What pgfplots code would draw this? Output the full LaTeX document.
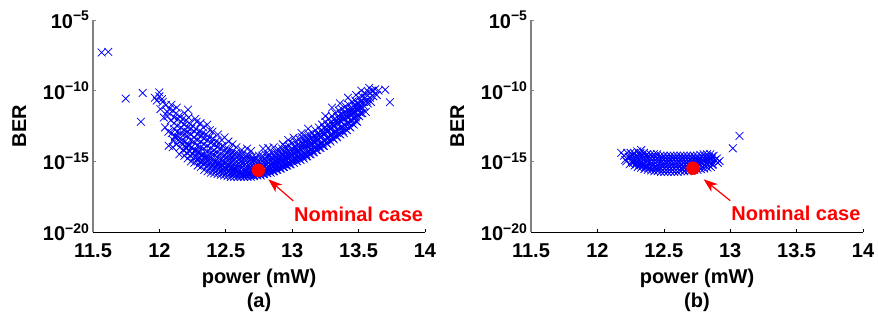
\documentclass[border=0pt]{standalone}
\usepackage{fontspec}
\setmainfont{Liberation Sans}
\usepackage{pgfplots}
\pgfplotsset{compat=1.18}
\usetikzlibrary{arrows.meta}
\newcommand\bigf{\fontsize{20}{25}\selectfont\bfseries}
\definecolor{mblue}{RGB}{0,0,255}
\definecolor{mred}{RGB}{255,0,0}
\pgfplotsset{
  berstyle/.style={
    scale only axis, width=332pt, height=212pt,
    xmin=11.5, xmax=14, ymin=-20, ymax=-5,
    axis x line*=bottom, axis y line*=left,
    x axis line style={black, line width=0.8pt},
    y axis line style={gray, line width=1.2pt},
    xtick={11.5,12,12.5,13,13.5,14},
    xticklabels={11.5,12,12.5,13,13.5,14},
    ytick={-20,-15,-10,-5},
    yticklabels={10\textsuperscript{−20},10\textsuperscript{−15},10\textsuperscript{−10},10\textsuperscript{−5}},
    tick align=inside, major tick length=3pt,
    xtick style={black, line width=0.6pt},
    ytick style={gray, line width=0.8pt},
    ticklabel style={font=\bigf},
    xticklabel style={yshift=-8pt},
    xlabel={power (mW)}, ylabel={BER},
    label style={font=\bigf},
    xlabel style={yshift=-4pt},
    ylabel style={yshift=10pt},
  },
  cloud/.style={only marks, mark=x, mark size=5.5pt, mblue, mark options={line width=0.75pt}},
  nominal/.style={only marks, mark=*, mark size=6.5pt, mred, mark options={draw=mred, fill=mred}},
}
\begin{document}
\begin{tikzpicture}
\path[use as bounding box] (-93pt,-93pt) rectangle (785pt,232pt);
% ---------------- (a) ----------------
\begin{axis}[berstyle, at={(0pt,0pt)}, anchor=south west]
\addplot[cloud] coordinates {
(11.565,-7.3)(11.615,-7.25)(11.746,-10.56)(11.874,-10.16)(11.86,-12.2)(11.999,-10.12)(11.966,-10.5)(11.98,-10.7)
(12.02,-10.6)(12.06,-11.5)(12.09,-11.0)(12.13,-11.2)(12.215,-11.34)(12.19,-11.6)(12.28,-12.2)(12.36,-12.4)
(12.33,-12.6)(12.40,-12.9)(12.49,-13.3)(12.55,-13.8)(12.69,-14.27)(12.82,-14.06)(12.62,-14.2)(13.01,-13.33)
(13.12,-12.7)(13.25,-11.8)(13.3,-11.2)(13.36,-10.9)(13.42,-10.5)(13.48,-10.3)(13.52,-10.0)(13.58,-9.8)
(13.61,-10.0)(13.70,-9.93)(13.736,-10.82)(13.55,-10.5)(13.50,-11.3)(13.46,-11.6)(12.10,-14.0)(12.15,-14.5)(12.07,-13.9)
(12.22,-11.9)(12.27,-12.0)(12.31,-12.3)(12.38,-12.8)(12.44,-13.1)(12.47,-13.5)(12.52,-13.6)(12.58,-14.0)
(12.66,-14.1)(12.78,-14.1)(12.86,-14.0)(12.93,-13.8)(12.97,-13.5)(13.07,-13.0)
(12.000,-10.4)(12.008,-11.3)
(12.025,-10.8)(12.033,-11.9)
(12.050,-11.0)(12.061,-11.8)(12.043,-12.6)
(12.075,-11.3)(12.086,-12.1)(12.068,-12.9)
(12.100,-11.4)(12.111,-12.3)(12.093,-13.0)(12.104,-13.5)
(12.125,-11.6)(12.136,-12.5)(12.118,-13.2)(12.129,-13.8)
(12.150,-11.8)(12.161,-12.6)(12.143,-13.3)(12.154,-14.0)
(12.175,-12.0)(12.186,-12.8)(12.168,-13.5)(12.179,-14.2)
(12.200,-12.1)(12.211,-12.9)(12.193,-13.6)(12.204,-14.1)(12.188,-14.6)
(12.225,-12.3)(12.236,-13.1)(12.218,-13.8)(12.229,-14.3)(12.213,-14.8)
(12.250,-12.5)(12.261,-13.3)(12.243,-14.0)(12.254,-14.5)(12.238,-15.0)
(12.275,-12.7)(12.286,-13.5)(12.268,-14.2)(12.279,-14.7)(12.263,-15.1)
(12.300,-12.9)(12.311,-13.6)(12.293,-14.3)(12.304,-14.8)(12.288,-15.3)
(12.325,-13.0)(12.336,-13.8)(12.318,-14.5)(12.329,-15.0)(12.313,-15.4)
(12.350,-13.1)(12.361,-13.9)(12.343,-14.6)(12.354,-15.1)(12.338,-15.6)
(12.375,-13.3)(12.386,-14.1)(12.368,-14.7)(12.379,-15.2)(12.363,-15.7)
(12.400,-13.4)(12.411,-14.2)(12.393,-14.8)(12.404,-15.3)(12.388,-15.8)
(12.425,-13.6)(12.436,-14.4)(12.418,-15.0)(12.429,-15.4)(12.413,-15.85)
(12.450,-13.7)(12.461,-14.5)(12.443,-15.1)(12.454,-15.5)(12.438,-15.9)
(12.475,-13.9)(12.486,-14.6)(12.468,-15.2)(12.479,-15.6)(12.463,-15.95)
(12.500,-14.1)(12.511,-14.7)(12.493,-15.2)(12.504,-15.6)(12.488,-16.0)
(12.525,-14.2)(12.536,-14.8)(12.518,-15.3)(12.529,-15.7)(12.513,-16.05)
(12.550,-14.3)(12.561,-14.9)(12.543,-15.4)(12.554,-15.8)(12.538,-16.1)
(12.575,-14.4)(12.586,-15.0)(12.568,-15.5)(12.579,-15.8)(12.563,-16.1)
(12.600,-14.5)(12.611,-15.0)(12.593,-15.5)(12.604,-15.85)(12.588,-16.1)
(12.625,-14.5)(12.636,-15.1)(12.618,-15.5)(12.629,-15.9)(12.613,-16.1)
(12.650,-14.6)(12.661,-15.1)(12.643,-15.6)(12.654,-15.9)(12.638,-16.1)
(12.675,-14.6)(12.686,-15.2)(12.668,-15.6)(12.679,-15.9)(12.663,-16.1)
(12.700,-14.7)(12.711,-15.2)(12.693,-15.6)(12.704,-15.9)(12.688,-16.1)
(12.725,-14.7)(12.736,-15.2)(12.718,-15.6)(12.729,-15.85)(12.713,-16.05)
(12.750,-14.6)(12.761,-15.1)(12.743,-15.5)(12.754,-15.8)(12.738,-16.0)
(12.775,-14.6)(12.786,-15.1)(12.768,-15.5)(12.779,-15.8)(12.763,-16.0)
(12.800,-14.5)(12.811,-15.0)(12.793,-15.4)(12.804,-15.7)(12.788,-15.9)
(12.825,-14.5)(12.836,-15.0)(12.818,-15.4)(12.829,-15.65)(12.813,-15.85)
(12.850,-14.4)(12.861,-14.9)(12.843,-15.3)(12.854,-15.6)(12.838,-15.8)
(12.875,-14.3)(12.886,-14.8)(12.868,-15.2)(12.879,-15.5)(12.863,-15.7)
(12.900,-14.2)(12.911,-14.7)(12.893,-15.1)(12.904,-15.4)(12.888,-15.6)
(12.925,-14.1)(12.936,-14.6)(12.918,-15.0)(12.929,-15.3)(12.913,-15.5)
(12.950,-14.0)(12.961,-14.5)(12.943,-14.9)(12.954,-15.2)(12.938,-15.4)
(12.975,-13.9)(12.986,-14.4)(12.968,-14.8)(12.979,-15.1)(12.963,-15.3)
(13.000,-13.7)(13.011,-14.2)(12.993,-14.6)(13.004,-14.9)(12.988,-15.2)
(13.025,-13.6)(13.036,-14.1)(13.018,-14.5)(13.029,-14.8)(13.013,-15.1)
(13.050,-13.4)(13.061,-13.9)(13.043,-14.3)(13.054,-14.7)(13.038,-15.0)
(13.075,-13.3)(13.086,-13.8)(13.068,-14.2)(13.079,-14.6)(13.063,-14.9)
(13.100,-13.2)(13.111,-13.7)(13.093,-14.1)(13.104,-14.5)(13.088,-14.8)
(13.125,-13.1)(13.136,-13.6)(13.118,-14.0)(13.129,-14.3)(13.113,-14.65)
(13.150,-13.0)(13.161,-13.4)(13.143,-13.8)(13.154,-14.2)(13.138,-14.5)
(13.175,-12.8)(13.186,-13.3)(13.168,-13.7)(13.179,-14.0)(13.163,-14.35)
(13.200,-12.6)(13.211,-13.1)(13.193,-13.5)(13.204,-13.9)(13.188,-14.2)
(13.225,-12.4)(13.236,-12.9)(13.218,-13.3)(13.229,-13.7)(13.213,-14.05)
(13.250,-12.2)(13.261,-12.7)(13.243,-13.1)(13.254,-13.5)(13.238,-13.9)
(13.275,-12.0)(13.286,-12.5)(13.268,-12.9)(13.279,-13.3)(13.263,-13.75)
(13.300,-11.8)(13.311,-12.3)(13.293,-12.7)(13.304,-13.1)(13.288,-13.6)
(13.325,-11.6)(13.336,-12.1)(13.318,-12.5)(13.329,-12.9)(13.313,-13.45)
(13.350,-11.4)(13.361,-11.9)(13.343,-12.3)(13.354,-12.8)(13.338,-13.3)
(13.375,-11.3)(13.386,-11.8)(13.368,-12.2)(13.379,-12.6)(13.363,-13.1)
(13.400,-11.1)(13.411,-11.6)(13.393,-12.0)(13.404,-12.5)(13.388,-13.0)
(13.425,-11.0)(13.436,-11.5)(13.418,-11.9)(13.429,-12.3)(13.413,-12.8)
(13.450,-10.8)(13.461,-11.3)(13.443,-11.7)(13.454,-12.1)(13.438,-12.6)
(13.475,-10.7)(13.486,-11.1)(13.468,-11.5)(13.479,-11.9)(13.463,-12.4)
(13.500,-10.5)(13.511,-11.0)(13.493,-11.4)(13.504,-11.8)(13.488,-12.2)
(13.525,-10.4)(13.536,-10.8)(13.518,-11.2)(13.529,-11.6)
(13.550,-10.2)(13.561,-10.7)(13.543,-11.1)(13.554,-11.5)
(13.575,-10.1)(13.586,-10.5)(13.568,-10.9)
(13.600,-10.0)(13.611,-10.4)(13.593,-10.8)
(13.625,-9.9)(13.636,-10.3)
(13.650,-10.0)
(12.114,-11.9)(12.109,-12.7)(12.117,-13.3)
(12.139,-12.0)(12.134,-12.9)(12.142,-13.5)
(12.164,-12.2)(12.159,-13.0)(12.167,-13.7)
(12.189,-12.4)(12.184,-13.1)(12.192,-13.9)
(12.214,-12.6)(12.209,-13.2)(12.217,-13.9)(12.206,-14.4)
(12.239,-12.7)(12.234,-13.5)(12.242,-14.0)(12.231,-14.6)
(12.264,-12.9)(12.259,-13.6)(12.267,-14.3)(12.256,-14.8)
(12.289,-13.1)(12.284,-13.9)(12.292,-14.4)(12.281,-14.9)
(12.314,-13.2)(12.309,-14.0)(12.317,-14.6)(12.306,-15.05)
(12.339,-13.4)(12.334,-14.1)(12.342,-14.75)(12.331,-15.2)
(12.364,-13.5)(12.359,-14.3)(12.367,-14.85)(12.356,-15.35)
(12.389,-13.7)(12.384,-14.4)(12.392,-14.95)(12.381,-15.45)
(12.414,-13.8)(12.409,-14.5)(12.417,-15.05)(12.406,-15.55)
(12.439,-14.0)(12.434,-14.7)(12.442,-15.2)(12.431,-15.65)
(12.464,-14.1)(12.459,-14.8)(12.467,-15.3)(12.456,-15.7)
(12.489,-14.25)(12.484,-14.9)(12.492,-15.4)(12.481,-15.8)
(12.514,-14.4)(12.509,-14.95)(12.517,-15.4)(12.506,-15.8)
(12.539,-14.5)(12.534,-15.05)(12.542,-15.5)(12.531,-15.9)
(12.564,-14.6)(12.559,-15.15)(12.567,-15.6)(12.556,-15.95)
(12.589,-14.7)(12.584,-15.25)(12.592,-15.65)(12.581,-15.95)
(12.614,-14.75)(12.609,-15.25)(12.617,-15.7)(12.606,-16.0)
(12.639,-14.8)(12.634,-15.3)(12.642,-15.7)(12.631,-16.0)
(12.664,-14.85)(12.659,-15.35)(12.667,-15.75)(12.656,-16.0)
(12.689,-14.9)(12.684,-15.4)(12.692,-15.75)(12.681,-16.0)
(12.714,-14.95)(12.709,-15.4)(12.717,-15.75)(12.706,-16.0)
(12.739,-14.95)(12.734,-15.4)(12.742,-15.7)(12.731,-15.95)
(12.764,-14.85)(12.759,-15.3)(12.767,-15.65)(12.756,-15.9)
(12.789,-14.85)(12.784,-15.3)(12.792,-15.65)(12.781,-15.9)
(12.814,-14.75)(12.809,-15.2)(12.817,-15.55)(12.806,-15.8)
(12.839,-14.75)(12.834,-15.2)(12.842,-15.5)(12.831,-15.75)
(12.864,-14.65)(12.859,-15.1)(12.867,-15.45)(12.856,-15.7)
(12.889,-14.55)(12.884,-15.0)(12.892,-15.35)(12.881,-15.6)
(12.914,-14.45)(12.909,-14.9)(12.917,-15.25)(12.906,-15.5)
(12.939,-14.35)(12.934,-14.8)(12.942,-15.15)(12.931,-15.4)
(12.964,-14.25)(12.959,-14.7)(12.967,-15.05)(12.956,-15.3)
(12.989,-14.15)(12.984,-14.6)(12.992,-14.95)(12.981,-15.2)
(13.014,-13.95)(13.009,-14.4)(13.017,-14.75)(13.006,-15.05)
(13.039,-13.85)(13.034,-14.3)(13.042,-14.65)(13.031,-14.95)
(13.064,-13.65)(13.059,-14.1)(13.067,-14.5)(13.056,-14.85)
(13.089,-13.55)(13.084,-14.0)(13.092,-14.4)(13.081,-14.75)
(13.114,-13.45)(13.109,-13.9)(13.117,-14.3)(13.106,-14.65)
(13.139,-13.35)(13.134,-13.8)(13.142,-14.15)(13.131,-14.5)
(13.164,-13.2)(13.159,-13.6)(13.167,-14.0)(13.156,-14.35)
(13.189,-13.05)(13.184,-13.5)(13.192,-13.85)(13.181,-14.2)
(13.214,-12.85)(13.209,-13.3)(13.217,-13.7)(13.206,-14.05)
(13.239,-12.65)(13.234,-13.1)(13.242,-13.5)(13.231,-13.9)
(13.264,-12.45)(13.259,-12.9)(13.267,-13.3)(13.256,-13.7)
(13.289,-12.25)(13.284,-12.7)(13.292,-13.1)(13.281,-13.5)
(13.314,-12.05)(13.309,-12.5)(13.317,-12.9)(13.306,-13.35)
(13.339,-11.85)(13.334,-12.3)(13.342,-12.7)(13.331,-13.2)
(13.364,-11.65)(13.359,-12.1)(13.367,-12.55)(13.356,-13.05)
(13.389,-11.55)(13.384,-12.0)(13.392,-12.4)(13.381,-12.85)
(13.414,-11.35)(13.409,-11.8)(13.417,-12.25)(13.406,-12.75)
(13.439,-11.25)(13.434,-11.7)(13.442,-12.1)(13.431,-12.55)
(13.464,-11.05)(13.459,-11.5)(13.467,-11.9)(13.456,-12.35)
(13.489,-10.9)(13.484,-11.3)(13.492,-11.7)(13.481,-12.15)
(13.514,-10.75)(13.509,-11.2)(13.517,-11.6)
};
\addplot[nominal] coordinates {(12.745,-15.63)};
\draw[mred, line width=1.2pt, -{Stealth[length=14pt,width=10pt,inset=4pt]}]
  (axis cs:13.008,-17.8) -- (axis cs:12.82,-16.27);
\node[mred, font=\bigf, inner sep=0pt] at (axis cs:13.5,-18.73) {Nominal case};
\end{axis}
\node[font=\bigf] at (166pt,-70pt) {(a)};
% ---------------- (b) ----------------
\begin{axis}[berstyle, at={(438pt,0pt)}, anchor=south west]
\addplot[cloud] coordinates {
(12.18,-14.4)(12.20,-14.6)(12.33,-14.2)(12.92,-14.98)(13.02,-14.08)(13.07,-13.2)(12.21,-14.9)(12.24,-14.7)
(12.225,-14.4)(12.236,-14.7)(12.218,-15.0)
(12.250,-14.4)(12.261,-14.8)(12.243,-15.2)
(12.275,-14.4)(12.286,-14.8)(12.268,-15.1)(12.279,-15.3)
(12.300,-14.3)(12.311,-14.7)(12.293,-15.1)(12.304,-15.4)
(12.325,-14.4)(12.336,-14.8)(12.318,-15.2)(12.329,-15.45)
(12.350,-14.4)(12.361,-14.8)(12.343,-15.2)(12.354,-15.55)
(12.375,-14.5)(12.386,-14.9)(12.368,-15.3)(12.379,-15.6)
(12.400,-14.5)(12.411,-14.9)(12.393,-15.3)(12.404,-15.65)
(12.425,-14.5)(12.436,-14.9)(12.418,-15.3)(12.429,-15.7)
(12.450,-14.5)(12.461,-14.9)(12.443,-15.35)(12.454,-15.7)
(12.475,-14.6)(12.486,-15.0)(12.468,-15.4)(12.479,-15.75)
(12.500,-14.6)(12.511,-15.0)(12.493,-15.4)(12.504,-15.75)
(12.525,-14.6)(12.536,-15.0)(12.518,-15.4)(12.529,-15.75)
(12.550,-14.6)(12.561,-15.0)(12.543,-15.4)(12.554,-15.75)
(12.575,-14.6)(12.586,-15.0)(12.568,-15.4)(12.579,-15.75)
(12.600,-14.6)(12.611,-15.0)(12.593,-15.4)(12.604,-15.75)
(12.625,-14.6)(12.636,-15.0)(12.618,-15.4)(12.629,-15.7)
(12.650,-14.6)(12.661,-15.0)(12.643,-15.4)(12.654,-15.7)
(12.675,-14.6)(12.686,-15.0)(12.668,-15.35)(12.679,-15.7)
(12.700,-14.6)(12.711,-15.0)(12.693,-15.35)(12.704,-15.65)
(12.725,-14.6)(12.736,-14.95)(12.718,-15.3)(12.729,-15.6)
(12.750,-14.6)(12.761,-14.95)(12.743,-15.3)(12.754,-15.6)
(12.775,-14.55)(12.786,-14.9)(12.768,-15.25)(12.779,-15.55)
(12.800,-14.5)(12.811,-14.9)(12.793,-15.2)(12.804,-15.5)
(12.825,-14.5)(12.836,-14.85)(12.818,-15.15)(12.829,-15.45)
(12.850,-14.5)(12.861,-14.8)(12.843,-15.1)(12.854,-15.4)
(12.875,-14.6)(12.886,-14.9)(12.868,-15.2)
(12.900,-14.8)(12.906,-15.1)
(12.264,-14.6)(12.259,-15.0)
(12.289,-14.6)(12.284,-14.95)(12.292,-15.2)
(12.314,-14.5)(12.309,-14.9)(12.317,-15.25)
(12.339,-14.6)(12.334,-15.0)(12.342,-15.3)
(12.364,-14.6)(12.359,-15.0)(12.367,-15.4)
(12.389,-14.7)(12.384,-15.1)(12.392,-15.45)
(12.414,-14.7)(12.409,-15.1)(12.417,-15.5)
(12.439,-14.7)(12.434,-15.1)(12.442,-15.5)
(12.464,-14.7)(12.459,-15.15)(12.467,-15.55)
(12.489,-14.8)(12.484,-15.2)(12.492,-15.6)
(12.514,-14.8)(12.509,-15.2)(12.517,-15.6)
(12.539,-14.8)(12.534,-15.2)(12.542,-15.6)
(12.564,-14.8)(12.559,-15.2)(12.567,-15.6)
(12.589,-14.8)(12.584,-15.2)(12.592,-15.6)
(12.614,-14.8)(12.609,-15.2)(12.617,-15.6)
(12.639,-14.8)(12.634,-15.2)(12.642,-15.55)
(12.664,-14.8)(12.659,-15.2)(12.667,-15.55)
(12.689,-14.8)(12.684,-15.2)(12.692,-15.5)
(12.714,-14.8)(12.709,-15.2)(12.717,-15.5)
(12.739,-14.8)(12.734,-15.1)(12.742,-15.45)
(12.764,-14.8)(12.759,-15.1)(12.767,-15.45)
(12.789,-14.7)(12.784,-15.05)(12.792,-15.4)
(12.814,-14.7)(12.809,-15.05)(12.817,-15.35)
(12.839,-14.7)(12.834,-15.0)(12.842,-15.3)
(12.864,-14.65)(12.859,-14.95)(12.867,-15.25)
};
\addplot[nominal] coordinates {(12.72,-15.49)};
\draw[mred, line width=1.2pt, -{Stealth[length=14pt,width=10pt,inset=4pt]}]
  (axis cs:13.0,-17.78) -- (axis cs:12.80,-16.27);
\node[mred, font=\bigf, inner sep=0pt] at (axis cs:13.495,-18.7) {Nominal case};
\end{axis}
\node[font=\bigf] at (604pt,-70pt) {(b)};
\end{tikzpicture}
\end{document}
